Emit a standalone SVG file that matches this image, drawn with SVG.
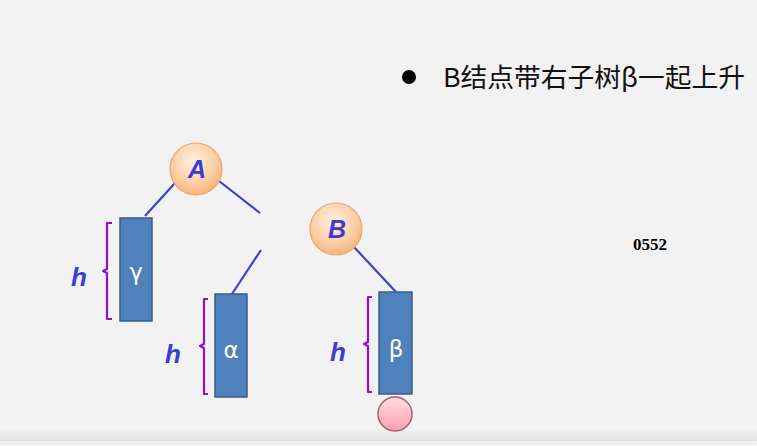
<svg xmlns="http://www.w3.org/2000/svg" width="757" height="446" viewBox="0 0 757 446">
<defs>
<radialGradient id="peach" cx="0.45" cy="0.35" r="0.7">
<stop offset="0" stop-color="#fff0e2"/>
<stop offset="0.6" stop-color="#fbcfa4"/>
<stop offset="1" stop-color="#f6ad74"/>
</radialGradient>
<linearGradient id="pink" x1="0" y1="0" x2="0" y2="1">
<stop offset="0" stop-color="#ffdde3"/>
<stop offset="1" stop-color="#ff9fb0"/>
</linearGradient>
<linearGradient id="band" x1="0" y1="0" x2="0" y2="1">
<stop offset="0" stop-color="#f3f3f3"/>
<stop offset="1" stop-color="#e2e2e2"/>
</linearGradient>
<style>
.node circle{fill:url(#peach);stroke:#f0a46a;stroke-width:1.2}
.node text{font-family:"Liberation Sans",Arial,sans-serif;font-weight:bold;font-style:italic;font-size:25px;fill:#3b3bd6;text-anchor:middle}
.sub rect{fill:#4f81bd;stroke:#385d8a;stroke-width:1.5}
.sub text.g{font-family:"DejaVu Sans","Liberation Sans",sans-serif;font-size:23px;fill:#ffffff;text-anchor:middle}
.brace{fill:none;stroke:#9010cc;stroke-width:2.2;stroke-linejoin:round}
.h{font-family:"Liberation Sans",Arial,sans-serif;font-weight:bold;font-style:italic;font-size:26px;fill:#3b3bd6}
.conn line{stroke:#4040d0;stroke-width:2.2}
</style>
</defs>
<rect width="757" height="446" fill="#f2f2f2"/>
<rect x="0" y="428" width="757" height="13" fill="url(#band)"/>
<rect x="0" y="441" width="757" height="5" fill="#f0f0f0"/>

<g id="bullet">
<circle cx="409" cy="77" r="7" fill="#000"/>
<text x="443" y="87" font-family="'Microsoft YaHei','Noto Sans CJK SC',sans-serif" font-size="26" textLength="302" lengthAdjust="spacingAndGlyphs" fill="#111">B结点带右子树β一起上升</text>
</g>

<text id="code" x="633" y="250" font-family="'Liberation Serif','Times New Roman',serif" font-weight="bold" font-size="17" textLength="34" lengthAdjust="spacingAndGlyphs" fill="#000">0552</text>

<g id="connectors" class="conn">
<line x1="175" y1="183" x2="145" y2="216"/>
<line x1="219" y1="181" x2="260" y2="213"/>
<line x1="261" y1="250" x2="232" y2="294"/>
<line x1="354" y1="247" x2="396" y2="292"/>
</g>

<g id="nodeA" class="node">
<circle cx="196" cy="169" r="26"/>
<text x="197" y="178">A</text>
</g>
<g id="nodeB" class="node">
<circle cx="336" cy="229" r="26"/>
<text x="337" y="238">B</text>
</g>

<g id="gamma" class="sub">
<rect x="120" y="218" width="32" height="103"/>
<text class="g" x="136" y="280">γ</text>
<path class="brace" d="M112,223 L107,223 L107,269 L103,271 L107,273 L107,319 L112,319"/>
<text class="h" x="71" y="286">h</text>
</g>

<g id="alpha" class="sub">
<rect x="215" y="294" width="32" height="103"/>
<text class="g" x="231" y="358">α</text>
<path class="brace" d="M208,299 L204,299 L204,344 L200,346 L204,348 L204,394 L208,394"/>
<text class="h" x="165" y="363">h</text>
</g>

<g id="beta" class="sub">
<rect x="379" y="292" width="33" height="102"/>
<text class="g" x="396" y="357">β</text>
<path class="brace" d="M372,297 L368,297 L368,342 L364,344 L368,346 L368,392 L372,392"/>
<text class="h" x="330" y="361">h</text>
</g>

<g id="pinknode">
<circle cx="395" cy="414" r="17" fill="url(#pink)" stroke="#a86070" stroke-width="1.5"/>
</g>
</svg>
